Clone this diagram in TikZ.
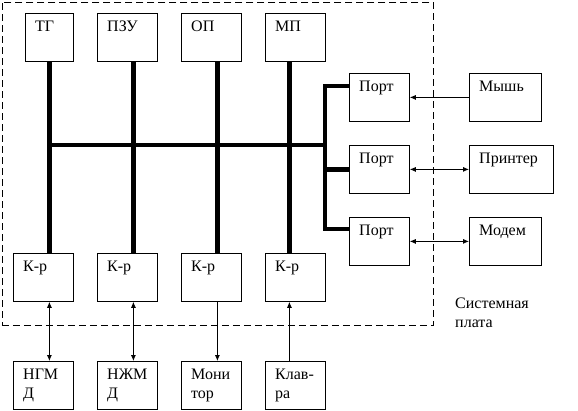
\documentclass[tikz,border=0pt]{standalone}
\usepackage{fontspec}
\setmainfont{Liberation Serif}
\newfontfamily\tnr{Liberation Serif}
\usetikzlibrary{arrows.meta,calc}
\begin{document}
\begin{tikzpicture}[x=1pt,y=-1pt,
  box/.style={draw, line width=0.8pt, rectangle, minimum height=48pt, minimum width=#1, inner sep=0pt, anchor=north west},
  box/.default=60pt,
  lbl/.style={anchor=north west, inner sep=0pt, align=left, xshift=10pt, yshift=-8pt, font=\tnr\fontsize{16}{19}\selectfont},
  bus/.style={line width=4.5pt, line join=miter, line cap=butt},
  arr/.style={line width=0.8pt, -{Latex[length=6pt,width=5pt]}},
  darr/.style={line width=0.8pt, {Latex[length=6pt,width=5pt]}-{Latex[length=6pt,width=5pt]}},
  frame/.style={draw, line width=0.8pt, dash pattern=on 7pt off 4pt, rectangle, inner sep=0pt, anchor=north west}
]
\useasboundingbox (0,0) rectangle (578,410);
% system board frame
\node[frame, minimum width=431.5pt, minimum height=323.5pt] (board) at (1.5,1.5) {};
% top row
\node[box=48pt, label={[lbl]north west:ТГ}] (tg) at (25,13) {};
\node[box, label={[lbl]north west:ПЗУ}] (pzu) at (97,13) {};
\node[box, label={[lbl]north west:ОП}] (op) at (181,13) {};
\node[box, label={[lbl]north west:МП}] (mp) at (265,13) {};
% ports
\node[box, label={[lbl]north west:Порт}] (port1) at (349,73) {};
\node[box, label={[lbl]north west:Порт}] (port2) at (349,145) {};
\node[box, label={[lbl]north west:Порт}] (port3) at (349,217) {};
% external devices
\node[box=72pt, label={[lbl]north west:Мышь}] (mouse) at (469,73) {};
\node[box=84pt, label={[lbl]north west:Принтер}] (printer) at (469,145) {};
\node[box=72pt, label={[lbl]north west:Модем}] (modem) at (469,217) {};
% controllers
\node[box, label={[lbl]north west:К-р}] (kr1) at (13,253) {};
\node[box, label={[lbl]north west:К-р}] (kr2) at (97,253) {};
\node[box, label={[lbl]north west:К-р}] (kr3) at (181,253) {};
\node[box, label={[lbl]north west:К-р}] (kr4) at (265,253) {};
% bottom devices
\node[box, label={[lbl]north west:НГМ\\Д}] (dev1) at (13,361) {};
\node[box, label={[lbl]north west:НЖМ\\Д}] (dev2) at (97,361) {};
\node[box, label={[lbl]north west:Мони\\тор}] (dev3) at (181,361) {};
\node[box, label={[lbl]north west:Клав-\\ра}] (dev4) at (265,361) {};
% caption
\node[anchor=north west, inner sep=0pt, align=left, font=\tnr\fontsize{16}{19}\selectfont] (cap) at (455,298) {Системная\\плата};
% bus
\coordinate (bt) at (325,86);
\coordinate (bb) at (325,229);
\draw[bus] (tg.south) -- (tg.south |- kr1.north);
\draw[bus] ([xshift=6pt]pzu.south) -- ([xshift=6pt]pzu.south |- kr2.north);
\draw[bus] ([xshift=6pt]op.south) -- ([xshift=6pt]op.south |- kr3.north);
\draw[bus] ([xshift=-6pt]mp.south) -- ([xshift=-6pt]mp.south |- kr4.north);
\draw[bus] (tg.south |- port2.north) -- (bt |- port2.north);
\draw[bus] (bt -| port1.west) -- (bt) -- (bb) -- (bb -| port3.west);
\draw[bus] (port2.west) -- (port2.west -| bt);
% connectors
\draw[arr] (mouse.west) -- (port1.east);
\draw[darr] (port2.east) -- (printer.west);
\draw[darr] (port3.east) -- (modem.west);
\draw[darr] ([xshift=6pt]kr1.south) -- ([xshift=6pt]dev1.north);
\draw[darr] ([xshift=6pt]kr2.south) -- ([xshift=6pt]dev2.north);
\draw[arr] ([xshift=6pt]kr3.south) -- ([xshift=6pt]dev3.north);
\draw[arr] ([xshift=-6pt]dev4.north) -- ([xshift=-6pt]kr4.south);
\end{tikzpicture}
\end{document}
